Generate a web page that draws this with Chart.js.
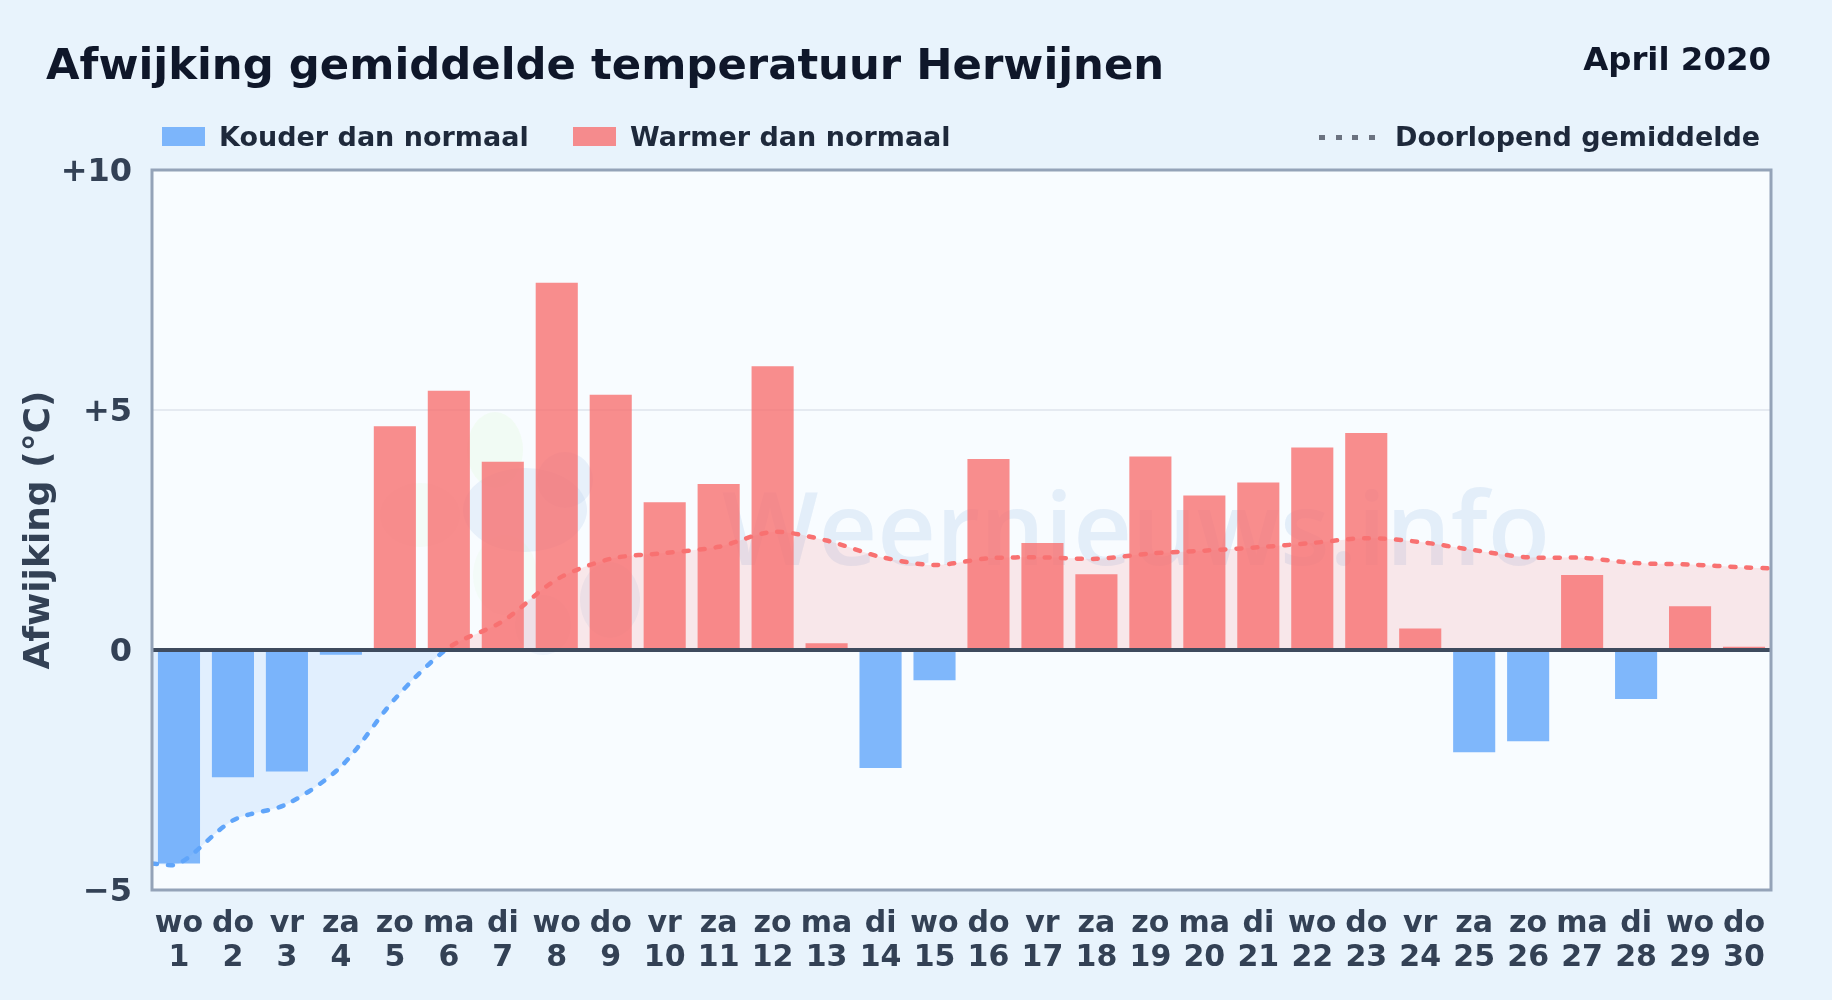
<!DOCTYPE html>
<html lang="nl">
<head>
<meta charset="utf-8">
<title>Afwijking gemiddelde temperatuur Herwijnen</title>
<script src="https://cdn.jsdelivr.net/npm/chart.js@4"></script>
<style>
html,body{margin:0;padding:0;width:1832px;height:1000px;overflow:hidden;background:#e8f3fc;font-family:"DejaVu Sans",sans-serif;font-weight:700}
#wrap{position:relative;width:1832px;height:1000px}
canvas{position:absolute;left:0;top:0}
.t{position:absolute;white-space:nowrap;line-height:1}
#title{left:46px;top:43px;font-size:43.35px;color:#0f172a}
#period{right:61px;top:43px;font-size:32.4px;color:#0f172a}
.lg{top:122.5px;font-size:27px;color:#1e293b}
.sw{position:absolute;top:127px;width:43px;height:19px}
.dots{position:absolute;left:1319px;top:134.5px;width:56px;height:5px;background:repeating-linear-gradient(90deg,#6b7280 0 6px,transparent 6px 16.6px)}
</style>
</head>
<body>
<div id="wrap">
<canvas id="c" width="1832" height="1000"></canvas>
<div class="t" id="title">Afwijking gemiddelde temperatuur Herwijnen</div>
<div class="t" id="period">April 2020</div>
<div class="sw" style="left:162px;background:rgba(96,165,250,.8)"></div>
<div class="t lg" style="left:219px">Kouder dan normaal</div>
<div class="sw" style="left:573px;background:rgba(248,113,113,.8)"></div>
<div class="t lg" style="left:630px">Warmer dan normaal</div>
<div class="dots"></div>
<div class="t lg" style="left:1395px">Doorlopend gemiddelde</div>
</div>
<script>
const weekdays = ['wo','do','vr','za','zo','ma','di','wo','do','vr','za','zo','ma','di','wo','do','vr','za','zo','ma','di','wo','do','vr','za','zo','ma','di','wo','do'];
const days = ['1','2','3','4','5','6','7','8','9','10','11','12','13','14','15','16','17','18','19','20','21','22','23','24','25','26','27','28','29','30'];
const deviation = [-4.45,-2.65,-2.53,-0.1,4.66,5.4,3.92,7.65,5.32,3.08,3.46,5.91,0.14,-2.46,-0.63,3.98,2.23,1.58,4.03,3.22,3.49,4.22,4.52,0.45,-2.13,-1.9,1.56,-1.02,0.91,0.07];
const runningX = [0.5,1,2,3,4,5,6,7,8,9,10,11,12,13,14,15,16,17,18,19,20,21,22,23,24,25,26,27,28,29,30,30.5];
const runningMean = [-4.45,-4.45,-3.55,-3.21,-2.43,-1.02,0.05,0.6,1.47,1.9,2.02,2.15,2.46,2.28,1.94,1.77,1.91,1.93,1.9,2.01,2.07,2.14,2.23,2.33,2.25,2.08,1.93,1.92,1.81,1.78,1.72,1.7];
const yTicks = {'10':'+10','5':'+5','0':'0','-5':'\u22125'};
const watermarkText = 'Weernieuws.info';

const RED='#f87171', BLUE='#60a5fa';
const runningPoints = runningX.map((x,i)=>({x,y:runningMean[i]}));

function splitColor(ctx){
  const ch=ctx.chart, a=ch.chartArea;
  if(!a||!ch.scales.y) return RED;
  const z=ch.scales.y.getPixelForValue(0);
  const g=ch.ctx.createLinearGradient(0,a.top,0,a.bottom);
  const s=(z-a.top)/(a.bottom-a.top);
  g.addColorStop(0,RED);g.addColorStop(s,RED);g.addColorStop(s,BLUE);g.addColorStop(1,BLUE);
  return g;
}

const panel={id:'panel',
  beforeDatasetsDraw(ch){
    const {ctx,chartArea:a}=ch;
    ctx.save();
    ctx.beginPath();ctx.rect(a.left,a.top,a.width,a.height);ctx.clip();
    ctx.fillStyle='rgba(180,205,235,.3)';
    ctx.font='600 102px "Open Sans"';
    ctx.textBaseline='alphabetic';ctx.textAlign='left';
    ctx.fillText(watermarkText,722,565);
    const blobs=[[495,450,28,38,'rgba(190,242,150,.1)'],[525,510,62,42,'rgba(180,205,235,.26)'],[565,480,28,28,'rgba(180,205,235,.26)'],[420,515,40,32,'rgba(190,242,150,.08)'],[505,575,32,40,'rgba(190,242,150,.07)'],[610,600,30,38,'rgba(180,205,235,.2)'],[543,625,28,30,'rgba(180,205,235,.16)']];
    blobs.forEach(b=>{ctx.fillStyle=b[4];ctx.beginPath();ctx.ellipse(b[0],b[1],b[2],b[3],0,0,7);ctx.fill();});
    ctx.restore();
  },
  beforeDraw(ch){
    const {ctx,chartArea:a}=ch;
    ctx.save();ctx.fillStyle='#f8fcff';ctx.fillRect(a.left,a.top,a.width,a.height);ctx.restore();
  },
  afterDatasetsDraw(ch){
    const {ctx,chartArea:a,scales:{y}}=ch;
    ctx.save();
    const z=y.getPixelForValue(0);
    ctx.strokeStyle='#3f4b5e';ctx.lineWidth=4;
    ctx.beginPath();ctx.moveTo(a.left,z);ctx.lineTo(a.right,z);ctx.stroke();
    ctx.strokeStyle='#94a3b8';ctx.lineWidth=3;
    ctx.strokeRect(a.left,a.top,a.width,a.height);
    ctx.restore();
  }
};

new Chart(document.getElementById('c'),{
  data:{
    labels:weekdays.map((w,i)=>[w,days[i]]),
    datasets:[
      {type:'line',label:'Doorlopend gemiddelde (vlak)',data:runningPoints,xAxisID:'x2',order:3,
       borderWidth:0,pointRadius:0,tension:.3,
       fill:{target:{value:0},above:'rgba(248,113,113,.15)',below:'rgba(96,165,250,.15)'}},
      {type:'bar',label:'Afwijking',data:deviation,order:2,grouped:false,
       categoryPercentage:1,barPercentage:.78,
       backgroundColor:c=>c.raw<0?'rgba(96,165,250,.8)':'rgba(248,113,113,.8)'},
      {type:'line',label:'Doorlopend gemiddelde',data:runningPoints,xAxisID:'x2',order:1,
       borderColor:splitColor,borderWidth:4.5,borderDash:[5,11],borderCapStyle:'round',
       pointRadius:0,tension:.3,fill:false}
    ]
  },
  options:{
    responsive:false,animation:false,
    layout:{autoPadding:false,padding:{top:170,left:0,right:61,bottom:0}},
    plugins:{legend:{display:false},tooltip:{enabled:false},title:{display:false}},
    scales:{
      x:{type:'category',offset:true,grid:{display:false},border:{display:false},
         ticks:{color:'#334155',font:{family:'"DejaVu Sans"',size:30,weight:'700',lineHeight:1.13},padding:9,maxRotation:0,autoSkip:false},
         afterFit(s){s.height=110;}},
      x2:{type:'linear',display:false,min:0.5,max:30.5},
      y:{min:-5,max:10,
         grid:{color:c=>c.tick.value===5?'#e5eaf1':'transparent',lineWidth:2,drawTicks:false},
         border:{display:false},
         ticks:{stepSize:5,padding:20,labelOffset:2.5,color:'#334155',font:{family:'"DejaVu Sans"',size:32,weight:'700'},callback:v=>yTicks[String(v)]},
         title:{display:true,text:'Afwijking (\u00b0C)',color:'#334155',font:{family:'"DejaVu Sans"',size:36,weight:'700'},padding:{top:18,bottom:0}},
         afterFit(s){s.width=152;}}
    }
  },
  plugins:[panel]
});
</script>
</body>
</html>
